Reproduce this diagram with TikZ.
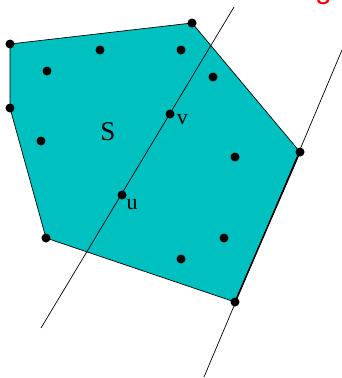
\documentclass[tikz,border=0pt]{standalone}
\usepackage{fontspec}
\setmainfont{Liberation Serif}
\newfontfamily\headfont{Liberation Sans}
\usetikzlibrary{positioning}
\definecolor{cteal}{RGB}{0,192,192}
\definecolor{cred}{RGB}{255,0,0}

\begin{document}
\begin{tikzpicture}[
    x=1pt, y=-1pt,
    dot/.style={circle, fill=black, inner sep=0pt, minimum size=9pt},
    hull/.style={draw=black, fill=cteal, line width=0.7pt},
    ray/.style={line width=0.7pt},
    lbl/.style={font=\fontsize{22}{22}\selectfont, inner sep=0pt},
    big/.style={font=\fontsize{27}{27}\selectfont, inner sep=0pt}
]
\useasboundingbox (0,0) rectangle (342,378);
\clip (0,0) rectangle (342,378);

% hull vertices
\coordinate (pa) at (10,44);
\coordinate (pb) at (192,23);
\coordinate (pc) at (300,152);
\coordinate (pd) at (235,302);
\coordinate (pe) at (46,238);
\coordinate (pf) at (10,108);
\filldraw[hull] (pa) -- (pb) -- (pc) -- (pd) -- (pe) -- (pf) -- cycle;
\draw[line width=1.4pt] (pc) -- (pd);

% lines
\coordinate (l1a) at (41,328);
\coordinate (l1b) at (234,7);
\coordinate (l2a) at (204,377);
\coordinate (l2b) at (342,50);
\draw[ray] (l1a) -- (l1b);
\draw[ray] (l2a) -- (l2b);

\foreach \p in {pa,pb,pc,pd,pe,pf}
  \node[dot] at (\p) {};

% inner points
\node[dot] (q1) at (100,50) {};
\node[dot] (q2) at (181,50) {};
\node[dot] (q3) at (47,71) {};
\node[dot] (q4) at (213,77) {};
\node[dot] (q5) at (41,141) {};
\node[dot] (q6) at (235,157) {};
\node[dot] (q7) at (224,238) {};
\node[dot] (q8) at (181,259) {};
\node[dot] (v) at (170,114) {};
\node[dot] (u) at (122,195) {};

\node[lbl, right=2pt of v, yshift=-6pt] {v};
\node[lbl, below right=1pt and 1pt of u] {u};
\node[big] (s) at (108,132) {S};

% title, cut off at the top
\node[anchor=base east, text=cred, inner sep=0pt,
      font=\headfont\fontsize{30}{30}\selectfont] (title) at (332,-2) {Checking};
\end{tikzpicture}
\end{document}
